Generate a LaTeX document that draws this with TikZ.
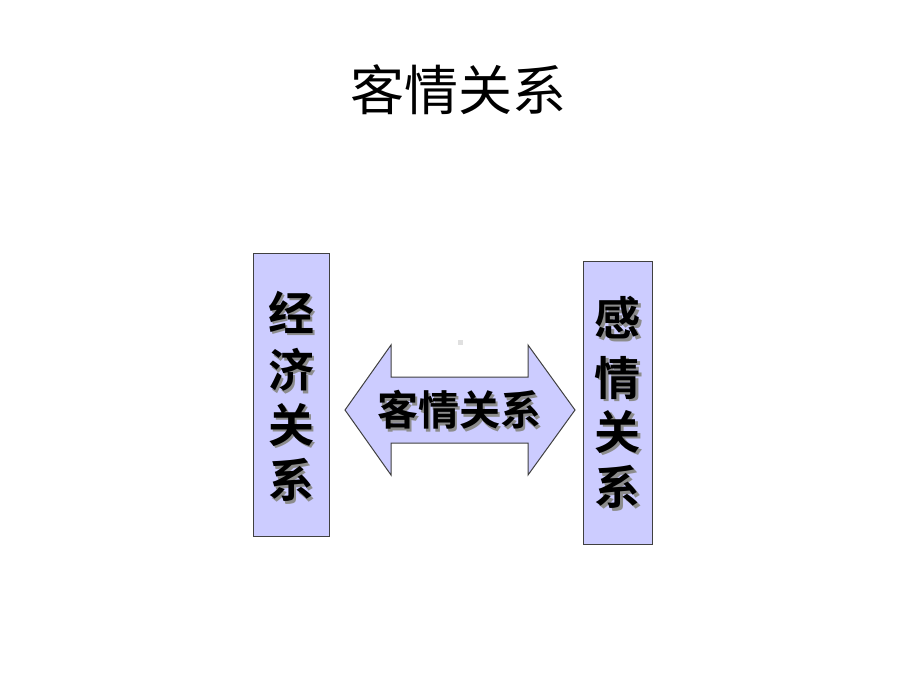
\documentclass[tikz,border=0pt]{standalone}
\usepackage{fontspec}
\newfontfamily\cjk{Noto Sans CJK SC}
\newfontfamily\cjkb{Noto Sans CJK SC Bold}
\definecolor{lav}{HTML}{CCCCFF}
\definecolor{edge}{HTML}{404040}
\begin{document}
\begin{tikzpicture}[x=1pt,y=-1pt,
  panel/.style={draw=edge,line width=1pt,fill=lav},
  vtext/.style={font=\cjkb\fontsize{46}{55}\selectfont,align=center,inner sep=0pt},
  shade/.style={text=black!45}]
\useasboundingbox (0,0) rectangle (920,690);
\node[font=\cjk\fontsize{54}{60}\selectfont] (title) at (458,90) {客情关系};
\node[panel,minimum width=76pt,minimum height=283pt,inner sep=0pt] (left) at (291,394.5) {};
\node[panel,minimum width=69pt,minimum height=283pt,inner sep=0pt] (right) at (617.5,402.5) {};
\draw[panel] (345,410) coordinate (tipL) -- (391,345) -- (391,377) -- (528,377) -- (528,345)
  -- (575,410) coordinate (tipR) -- (528,475) -- (528,443) -- (391,443) -- (391,475) -- cycle;
\fill[black!12] (457.5,339.5) rectangle (462.5,344.5);
\foreach \c/\y [count=\i] in {经/312,济/370,关/425,系/480}{
  \node[vtext,shade] at (293.5,\y+2.5) {\c};
  \node[vtext] (l\i) at (291,\y) {\c};
}
\foreach \c/\y [count=\i] in {感/318,情/378,关/432,系/487}{
  \node[vtext,shade] at (620,\y+2.5) {\c};
  \node[vtext] (r\i) at (617.5,\y) {\c};
}
\node[font=\cjkb\fontsize{41}{48}\selectfont,text=black!45] at (461.5,412.5) {客情关系};
\node[font=\cjkb\fontsize{41}{48}\selectfont] (mid) at (459,410) {客情关系};
\end{tikzpicture}
\end{document}
